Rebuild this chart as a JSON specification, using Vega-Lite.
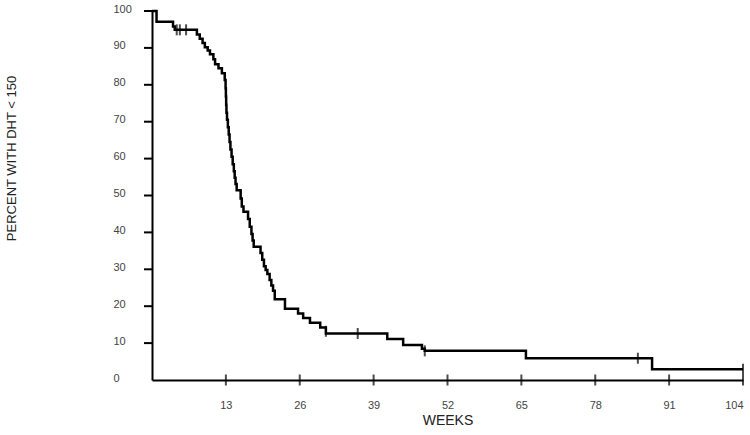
{
  "$schema": "https://vega.github.io/schema/vega-lite/v6.json",
  "width": 591,
  "height": 369,
  "autosize": {"type": "none"},
  "padding": {"left": 152, "top": 11, "right": 7, "bottom": 55},
  "background": "white",
  "config": {
    "view": {"stroke": null},
    "font": "Liberation Sans",
    "axis": {
      "grid": false,
      "ticks": false,
      "domainColor": "black",
      "domainWidth": 2,
      "labelColor": "#444444",
      "labelFont": "Liberation Sans",
      "labelFontSize": 11,
      "labelOverlap": false,
      "titleFont": "Liberation Sans",
      "titleFontWeight": "normal",
      "titleColor": "#222222"
    }
  },
  "datasets": {
    "curve": [
      {"week": 0, "pct": 100},
      {"week": 0.8, "pct": 97.1},
      {"week": 3.7, "pct": 95.8},
      {"week": 4.0, "pct": 94.9},
      {"week": 7.9, "pct": 93.6},
      {"week": 8.4, "pct": 92.5},
      {"week": 8.9, "pct": 91.3},
      {"week": 9.3, "pct": 90.2},
      {"week": 9.8, "pct": 89.3},
      {"week": 10.2, "pct": 88.3},
      {"week": 10.8, "pct": 86.9},
      {"week": 11.1, "pct": 85.6},
      {"week": 11.7, "pct": 84.5},
      {"week": 12.3, "pct": 83.1},
      {"week": 12.8, "pct": 81.3},
      {"week": 12.95, "pct": 79.0},
      {"week": 13.0, "pct": 76.8},
      {"week": 13.05, "pct": 74.6},
      {"week": 13.1, "pct": 72.4},
      {"week": 13.2, "pct": 70.5},
      {"week": 13.35, "pct": 68.5},
      {"week": 13.5, "pct": 66.5},
      {"week": 13.65, "pct": 64.5},
      {"week": 13.8, "pct": 62.5},
      {"week": 14.0, "pct": 60.5},
      {"week": 14.2, "pct": 58.5},
      {"week": 14.4, "pct": 56.6},
      {"week": 14.55, "pct": 54.8},
      {"week": 14.7, "pct": 53.1},
      {"week": 14.9, "pct": 51.4},
      {"week": 15.6, "pct": 49.2},
      {"week": 15.8, "pct": 47.0},
      {"week": 16.1, "pct": 45.6},
      {"week": 16.9, "pct": 43.6},
      {"week": 17.2, "pct": 41.5},
      {"week": 17.5, "pct": 39.6},
      {"week": 17.7, "pct": 37.8},
      {"week": 17.9, "pct": 36.1},
      {"week": 19.1, "pct": 34.4},
      {"week": 19.4, "pct": 32.6},
      {"week": 19.7, "pct": 30.8},
      {"week": 20.0, "pct": 29.8},
      {"week": 20.3, "pct": 28.7},
      {"week": 20.7, "pct": 27.1},
      {"week": 21.0, "pct": 25.6},
      {"week": 21.3, "pct": 24.2},
      {"week": 21.6, "pct": 21.9},
      {"week": 23.4, "pct": 19.3},
      {"week": 25.7, "pct": 18.0},
      {"week": 26.6, "pct": 16.8},
      {"week": 27.8, "pct": 15.5},
      {"week": 29.6, "pct": 14.2},
      {"week": 30.6, "pct": 12.6},
      {"week": 41.4, "pct": 11.1},
      {"week": 44.2, "pct": 9.5},
      {"week": 47.5, "pct": 8.5},
      {"week": 48.0, "pct": 7.9},
      {"week": 65.8, "pct": 5.9},
      {"week": 88.0, "pct": 2.9},
      {"week": 104, "pct": 2.9}
    ],
    "censor": [
      {"week": 4.35, "pct": 94.9},
      {"week": 4.9, "pct": 94.9},
      {"week": 6.0, "pct": 94.9},
      {"week": 30.6, "pct": 13.2},
      {"week": 36.2, "pct": 12.6},
      {"week": 48.0, "pct": 7.9},
      {"week": 85.5, "pct": 5.9},
      {"week": 104, "pct": 2.9}
    ],
    "xticks": [
      {"week": 13, "pct": 0}, {"week": 26, "pct": 0}, {"week": 39, "pct": 0}, {"week": 52, "pct": 0},
      {"week": 65, "pct": 0}, {"week": 78, "pct": 0}, {"week": 91, "pct": 0}, {"week": 104, "pct": 0}
    ],
    "yticks": [
      {"week": 0, "pct": 10}, {"week": 0, "pct": 20}, {"week": 0, "pct": 30}, {"week": 0, "pct": 40},
      {"week": 0, "pct": 50}, {"week": 0, "pct": 60}, {"week": 0, "pct": 70}, {"week": 0, "pct": 80},
      {"week": 0, "pct": 90}, {"week": 0, "pct": 100}
    ]
  },
  "encoding": {
    "x": {
      "field": "week", "type": "quantitative",
      "scale": {"domain": [0, 104], "nice": false, "zero": true},
      "axis": {
        "values": [13, 26, 39, 52, 65, 78, 91, 104],
        "title": "WEEKS",
        "titleFontSize": 14,
        "titleBaseline": "alphabetic",
        "titleY": 44,
        "labelPadding": 19,
        "labelBaseline": "top"
      }
    },
    "y": {
      "field": "pct", "type": "quantitative",
      "scale": {"domain": [0, 100], "nice": false},
      "axis": {
        "values": [0, 10, 20, 30, 40, 50, 60, 70, 80, 90, 100],
        "title": "PERCENT WITH DHT < 150",
        "titleFontSize": 13,
        "titleAngle": 270,
        "titleAlign": "center",
        "titleBaseline": "alphabetic",
        "titleX": -137,
        "titleY": 147,
        "labelAlign": "left",
        "labelPadding": 39,
        "labelOffset": -2
      }
    }
  },
  "layer": [
    {
      "data": {"name": "curve"},
      "mark": {"type": "line", "interpolate": "step-after", "color": "black", "strokeWidth": 2.5}
    },
    {
      "data": {"name": "censor"},
      "mark": {"type": "tick", "orient": "vertical", "color": "black", "size": 11, "thickness": 2}
    },
    {
      "data": {"name": "xticks"},
      "mark": {"type": "tick", "orient": "vertical", "color": "black", "size": 11, "thickness": 2, "clip": false}
    },
    {
      "data": {"name": "yticks"},
      "mark": {"type": "rule", "color": "black", "strokeWidth": 2, "xOffset": -8, "clip": false},
      "encoding": {
        "x": {"field": "week", "type": "quantitative"},
        "x2": {"field": "week"},
        "y": {"field": "pct", "type": "quantitative"}
      }
    }
  ]
}
